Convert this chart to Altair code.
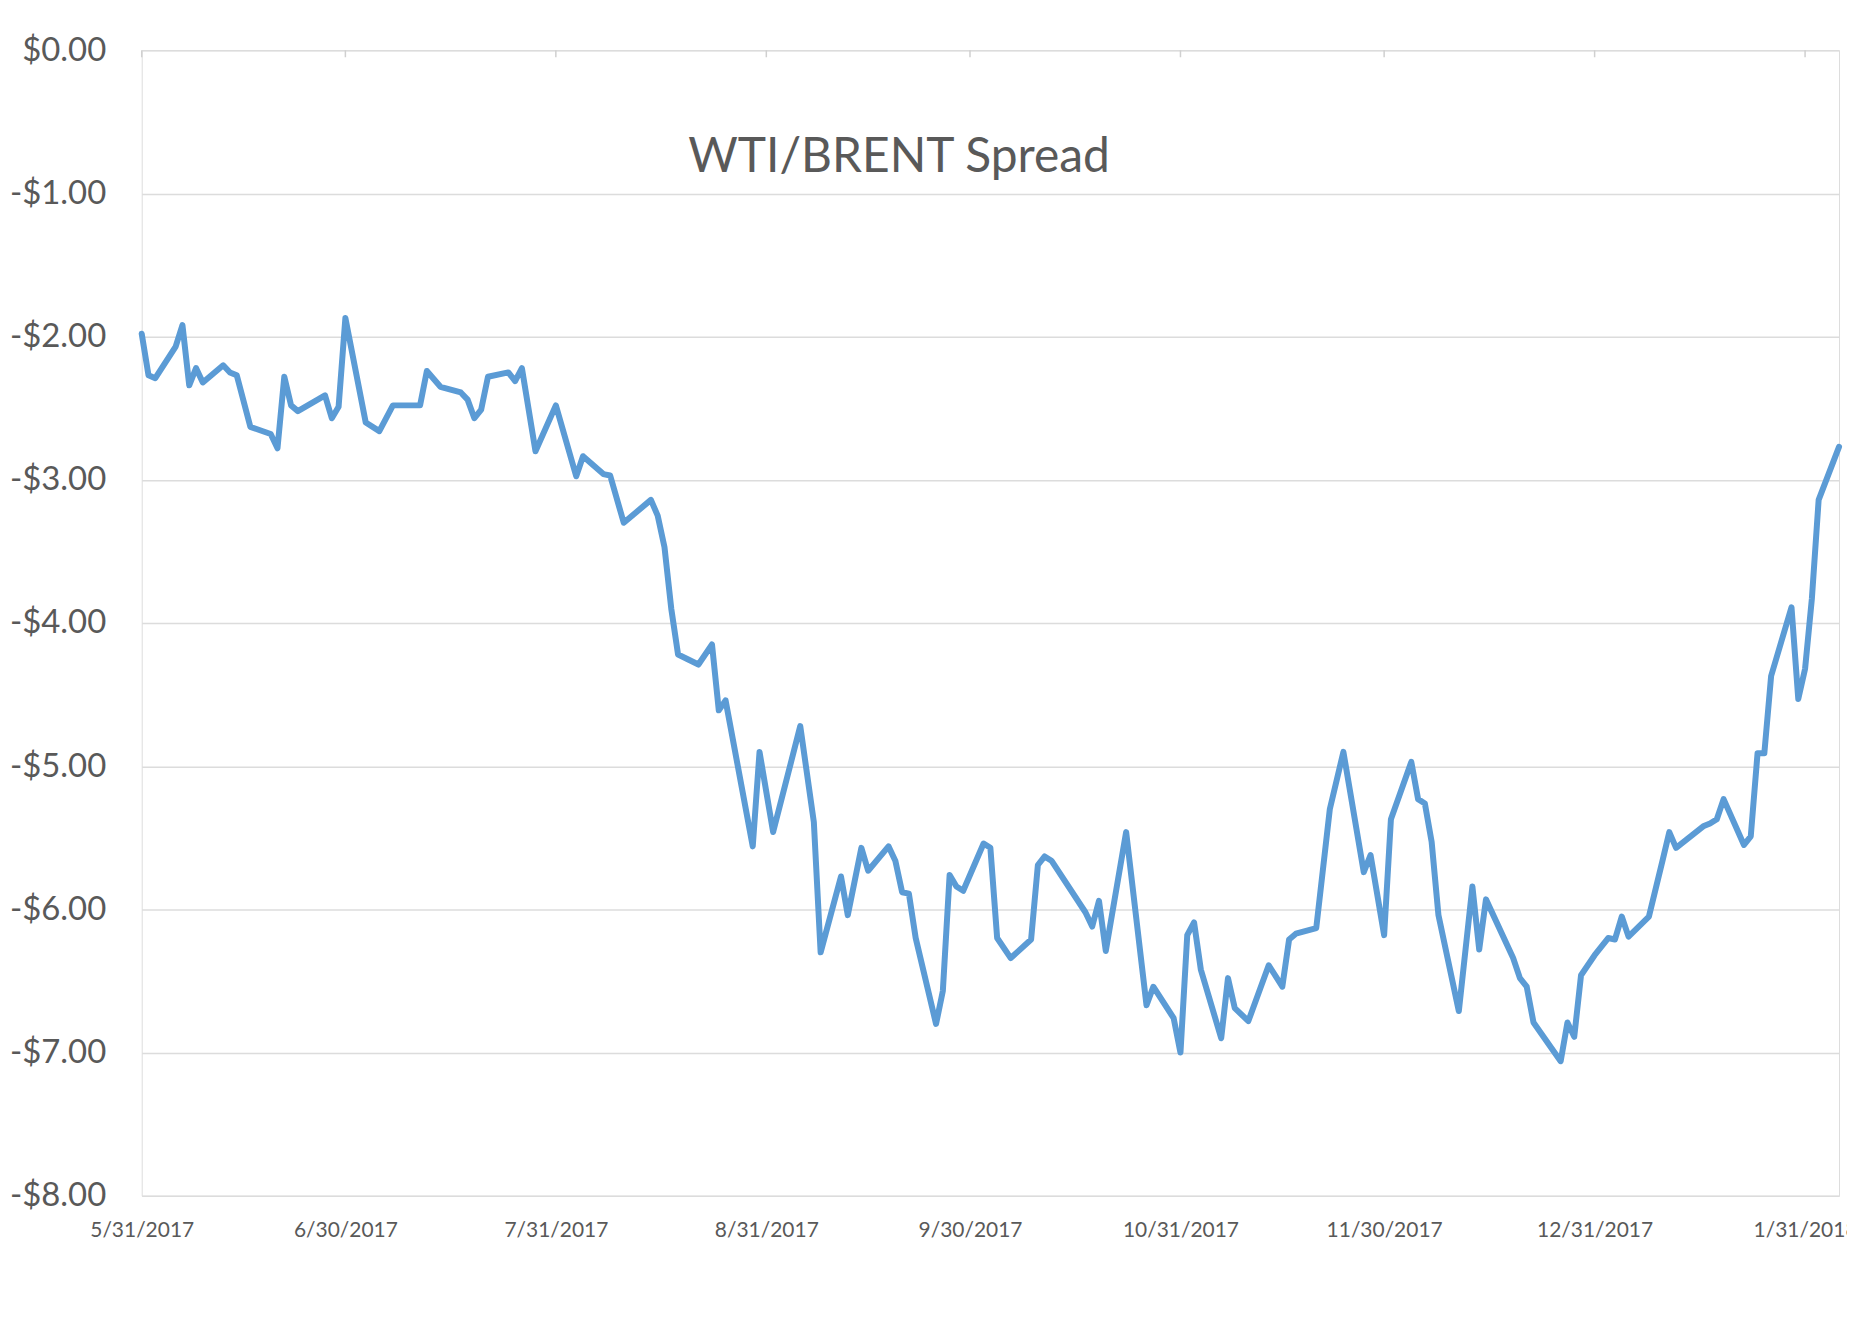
import altair as alt
import pandas as pd

# ---- data ----
dates = [
    "2017-05-31", "2017-06-01", "2017-06-02", "2017-06-05", "2017-06-06", "2017-06-07",
    "2017-06-08", "2017-06-09", "2017-06-12", "2017-06-13", "2017-06-14", "2017-06-16",
    "2017-06-19", "2017-06-20", "2017-06-21", "2017-06-22", "2017-06-23", "2017-06-27",
    "2017-06-28", "2017-06-29", "2017-06-30", "2017-07-03", "2017-07-05", "2017-07-07",
    "2017-07-11", "2017-07-12", "2017-07-14", "2017-07-17", "2017-07-18", "2017-07-19",
    "2017-07-20", "2017-07-21", "2017-07-24", "2017-07-25", "2017-07-26", "2017-07-28",
    "2017-07-31", "2017-08-03", "2017-08-04", "2017-08-07", "2017-08-08", "2017-08-10",
    "2017-08-14", "2017-08-15", "2017-08-16", "2017-08-17", "2017-08-18", "2017-08-21",
    "2017-08-23", "2017-08-24", "2017-08-25", "2017-08-29", "2017-08-30", "2017-09-01",
    "2017-09-05", "2017-09-07", "2017-09-08", "2017-09-11", "2017-09-12", "2017-09-14",
    "2017-09-15", "2017-09-18", "2017-09-19", "2017-09-20", "2017-09-21", "2017-09-22",
    "2017-09-25", "2017-09-26", "2017-09-27", "2017-09-28", "2017-09-29", "2017-10-02",
    "2017-10-03", "2017-10-04", "2017-10-06", "2017-10-09", "2017-10-10", "2017-10-11",
    "2017-10-12", "2017-10-17", "2017-10-18", "2017-10-19", "2017-10-20", "2017-10-23",
    "2017-10-26", "2017-10-27", "2017-10-30", "2017-10-31", "2017-11-01", "2017-11-02",
    "2017-11-03", "2017-11-06", "2017-11-07", "2017-11-08", "2017-11-10", "2017-11-13",
    "2017-11-15", "2017-11-16", "2017-11-17", "2017-11-20", "2017-11-22", "2017-11-24",
    "2017-11-27", "2017-11-28", "2017-11-30", "2017-12-01", "2017-12-04", "2017-12-05",
    "2017-12-06", "2017-12-07", "2017-12-08", "2017-12-11", "2017-12-13", "2017-12-14",
    "2017-12-15", "2017-12-19", "2017-12-20", "2017-12-21", "2017-12-22", "2017-12-26",
    "2017-12-27", "2017-12-28", "2017-12-29", "2017-12-31", "2018-01-02", "2018-01-03",
    "2018-01-04", "2018-01-05", "2018-01-08", "2018-01-10", "2018-01-11", "2018-01-12",
    "2018-01-16", "2018-01-17", "2018-01-18", "2018-01-19", "2018-01-22", "2018-01-23",
    "2018-01-24", "2018-01-25", "2018-01-26", "2018-01-29", "2018-01-30", "2018-01-31",
    "2018-02-01", "2018-02-02", "2018-02-05",
]

spread = [
    -1.98, -2.27, -2.29, -2.07, -1.92, -2.34,
    -2.22, -2.32, -2.20, -2.25, -2.27, -2.63,
    -2.68, -2.78, -2.28, -2.48, -2.52, -2.41,
    -2.57, -2.49, -1.87, -2.60, -2.66, -2.48,
    -2.48, -2.24, -2.35, -2.39, -2.44, -2.57,
    -2.51, -2.28, -2.25, -2.31, -2.22, -2.80,
    -2.48, -2.975, -2.835, -2.96, -2.97, -3.30,
    -3.14, -3.25, -3.47, -3.90, -4.22, -4.29,
    -4.15, -4.61, -4.54, -5.56, -4.90, -5.46,
    -4.72, -5.39, -6.30, -5.77, -6.04, -5.57,
    -5.73, -5.56, -5.66, -5.88, -5.89, -6.20,
    -6.80, -6.57, -5.76, -5.84, -5.87, -5.54,
    -5.57, -6.20, -6.34, -6.21, -5.69, -5.63,
    -5.66, -6.02, -6.12, -5.94, -6.29, -5.46,
    -6.67, -6.54, -6.76, -7.00, -6.18, -6.09,
    -6.42, -6.90, -6.48, -6.69, -6.78, -6.39,
    -6.54, -6.21, -6.17, -6.13, -5.30, -4.90,
    -5.74, -5.62, -6.18, -5.37, -4.97, -5.23,
    -5.26, -5.53, -6.04, -6.71, -5.84, -6.28,
    -5.93, -6.34, -6.48, -6.54, -6.79, -7.06,
    -6.79, -6.89, -6.46, -6.32, -6.20, -6.21,
    -6.05, -6.19, -6.05, -5.66, -5.46, -5.57,
    -5.42, -5.40, -5.37, -5.23, -5.55, -5.49,
    -4.91, -4.91, -4.37, -3.89, -4.53, -4.32,
    -3.83, -3.14, -2.77,
]

tick_dates = [
    "2017-05-31", "2017-06-30", "2017-07-31", "2017-08-31", "2017-09-30",
    "2017-10-31", "2017-11-30", "2017-12-31", "2018-01-31",
]
y_ticks = [0, -1, -2, -3, -4, -5, -6, -7, -8]
title_text = ["WTI/BRENT Spread"]

# ---- tables ----
df = pd.DataFrame({"date": pd.to_datetime(dates), "spread": spread})
ticks_df = pd.DataFrame({"date": pd.to_datetime(tick_dates)})
title_df = pd.DataFrame({"label": title_text})


def to_dt(s):
    d = pd.Timestamp(s)
    return alt.DateTime(year=d.year, month=d.month, date=d.day)


x_scale = alt.Scale(domain=[to_dt(dates[0]), to_dt(dates[-1])])
y_scale = alt.Scale(domain=[min(y_ticks), max(y_ticks)], nice=False, zero=False)

FONT = "Lato"
GREY = "#595959"

line = alt.Chart(df).mark_line(
    color="#5B9BD5", strokeWidth=6, strokeJoin="round", strokeCap="round"
).encode(
    x=alt.X(
        "date:T",
        scale=x_scale,
        axis=alt.Axis(
            values=[to_dt(t) for t in tick_dates],
            format="%-m/%-d/%Y",
            title=None,
            grid=False,
            domain=False,
            ticks=False,
            labelFlush=False,
            labelOverlap=False,
            labelFont=FONT,
            labelFontSize=21,
            labelColor=GREY,
            labelPadding=24,
        ),
    ),
    y=alt.Y(
        "spread:Q",
        scale=y_scale,
        axis=alt.Axis(
            values=y_ticks,
            labelExpr="datum.value < 0 ? '-$' + format(-datum.value, '.2f') : '$' + format(datum.value, '.2f')",
            title=None,
            grid=True,
            gridColor="#dcdcdc",
            gridWidth=1.5,
            domain=False,
            ticks=False,
            labelFont=FONT,
            labelFontSize=33,
            labelColor=GREY,
            labelPadding=36,
        ),
    ),
)

month_ticks = alt.Chart(ticks_df).mark_rule(color="#d0d0d0", strokeWidth=1.5).encode(
    x=alt.X("date:T", scale=x_scale),
    y=alt.value(0),
    y2=alt.value(7),
)

title = alt.Chart(title_df).mark_text(
    font=FONT, fontSize=48, color=GREY, align="center", baseline="alphabetic"
).encode(
    x=alt.value(759),
    y=alt.value(122),
    text="label:N",
)

chart = alt.layer(month_ticks, line, title).properties(
    width=1701,
    height=1148,
    autosize=alt.AutoSizeParams(type="none"),
    padding={"left": 134, "top": 41, "right": 8, "bottom": 60},
).configure_view(stroke=None).configure(background="white")

chart.save("out.html", embed_options={"renderer": "svg", "actions": False})
